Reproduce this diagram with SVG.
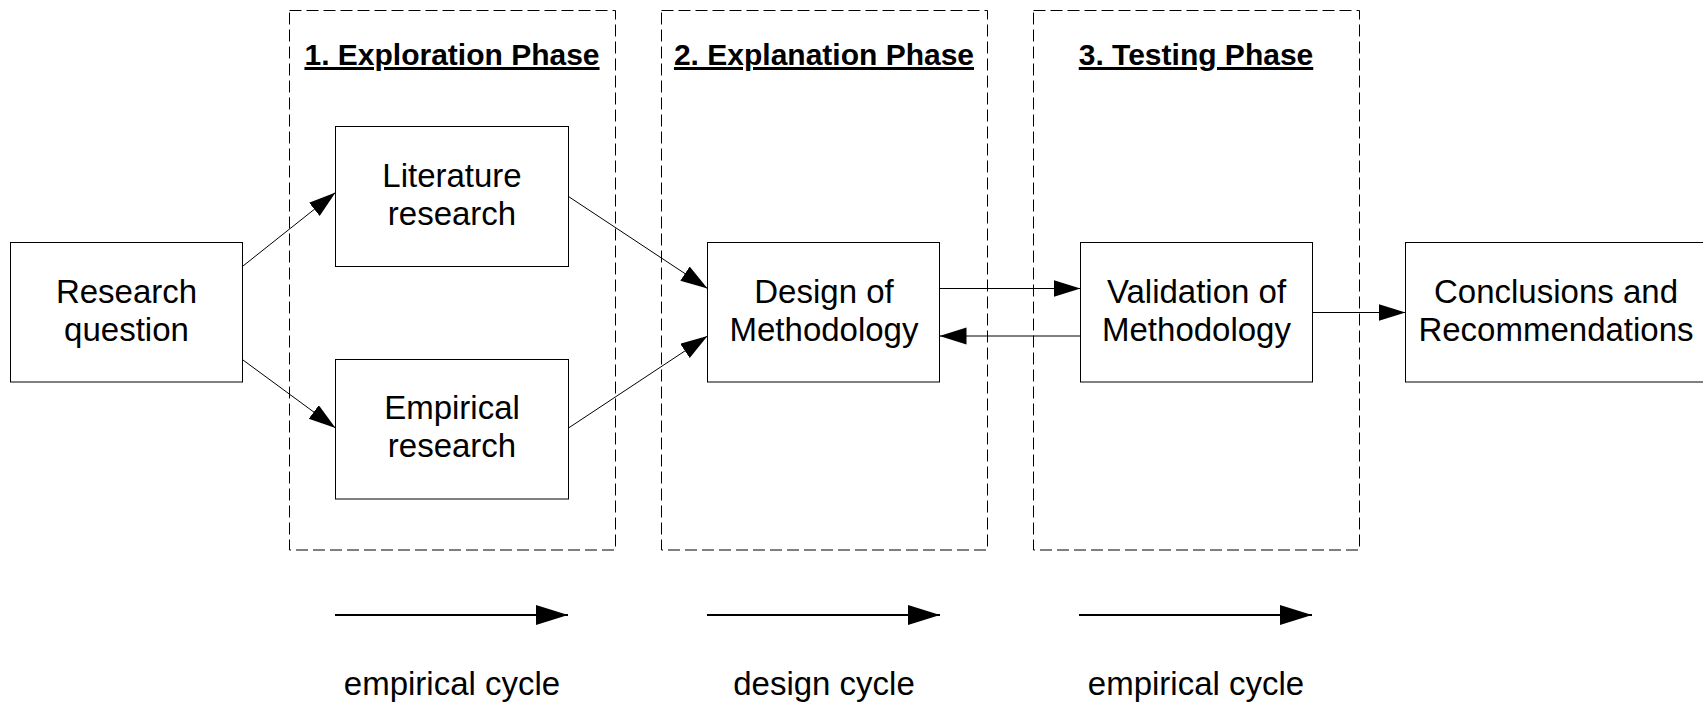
<svg xmlns="http://www.w3.org/2000/svg" width="1703" height="705" viewBox="0 0 1703 705">
  <style>
    .node rect { fill: #ffffff; stroke: #000000; stroke-width: 1; }
    .node text { font-family: "Liberation Sans", Arial, sans-serif; font-size: 33px; fill: #000000; text-anchor: middle; }
    .phase rect { fill: none; stroke: #000000; stroke-width: 1; stroke-dasharray: 12 5; }
    .phase text { font-family: "Liberation Sans", Arial, sans-serif; font-size: 30px; font-weight: bold; fill: #000000; text-anchor: middle; text-decoration: underline; }
    .conn { stroke: #000000; stroke-width: 1; fill: none; marker-end: url(#arrow); }
    .cycle { stroke: #000000; stroke-width: 2; fill: none; marker-end: url(#arrowBold); }
    .cycle-label { font-family: "Liberation Sans", Arial, sans-serif; font-size: 33px; fill: #000000; text-anchor: middle; }
  </style>
  <defs>
    <marker id="arrow" markerUnits="userSpaceOnUse" markerWidth="28" markerHeight="18" refX="27" refY="8.5" orient="auto">
      <path d="M0,0 L27,8.5 L0,17 z" fill="#000000"/>
    </marker>
    <marker id="arrowBold" markerUnits="userSpaceOnUse" markerWidth="33" markerHeight="21" refX="32" refY="10" orient="auto">
      <path d="M0,0 L32,10 L0,20 z" fill="#000000"/>
    </marker>
  </defs>
  <rect width="1703" height="705" fill="#ffffff"/>

  <!-- phase frames -->
  <g id="phase-exploration" class="phase">
    <rect x="289.5" y="10.5" width="326" height="539.5"/>
    <text x="452" y="65">1. Exploration Phase</text>
  </g>
  <g id="phase-explanation" class="phase">
    <rect x="661.5" y="10.5" width="326" height="539.5"/>
    <text x="824" y="65">2. Explanation Phase</text>
  </g>
  <g id="phase-testing" class="phase">
    <rect x="1033.5" y="10.5" width="326" height="539.5"/>
    <text x="1196" y="65">3. Testing Phase</text>
  </g>

  <!-- connectors -->
  <g id="connectors">
    <line class="conn" x1="243" y1="266" x2="335.5" y2="192.5"/>
    <line class="conn" x1="243" y1="360" x2="335.5" y2="428"/>
    <line class="conn" x1="568.5" y1="196.5" x2="707.5" y2="288.5"/>
    <line class="conn" x1="568.5" y1="428" x2="707.5" y2="336"/>
    <line class="conn" x1="939.5" y1="288.5" x2="1080.5" y2="288.5"/>
    <line class="conn" x1="1080.5" y1="336" x2="939.5" y2="336"/>
    <line class="conn" x1="1312.5" y1="312.5" x2="1405.5" y2="312.5"/>
  </g>

  <!-- nodes -->
  <g id="research-question" class="node">
    <rect x="10.5" y="242.5" width="232" height="139.5"/>
    <text x="126.5" y="303">Research</text>
    <text x="126.5" y="341">question</text>
  </g>
  <g id="literature-research" class="node">
    <rect x="335.5" y="126.5" width="233" height="140"/>
    <text x="452" y="187">Literature</text>
    <text x="452" y="225">research</text>
  </g>
  <g id="empirical-research" class="node">
    <rect x="335.5" y="359.5" width="233" height="139.5"/>
    <text x="452" y="419">Empirical</text>
    <text x="452" y="457">research</text>
  </g>
  <g id="design-methodology" class="node">
    <rect x="707.5" y="242.5" width="232" height="139.5"/>
    <text x="824" y="303">Design of</text>
    <text x="824" y="341">Methodology</text>
  </g>
  <g id="validation-methodology" class="node">
    <rect x="1080.5" y="242.5" width="232" height="139.5"/>
    <text x="1196.5" y="303">Validation of</text>
    <text x="1196.5" y="341">Methodology</text>
  </g>
  <g id="conclusions" class="node">
    <rect x="1405.5" y="242.5" width="310" height="139.5"/>
    <text x="1556" y="303">Conclusions and</text>
    <text x="1556" y="341">Recommendations</text>
  </g>

  <!-- cycle indicators -->
  <g id="cycle-empirical-1">
    <line class="cycle" x1="335" y1="615" x2="568" y2="615"/>
    <text class="cycle-label" x="452" y="695">empirical cycle</text>
  </g>
  <g id="cycle-design">
    <line class="cycle" x1="707" y1="615" x2="940" y2="615"/>
    <text class="cycle-label" x="824" y="695">design cycle</text>
  </g>
  <g id="cycle-empirical-2">
    <line class="cycle" x1="1079" y1="615" x2="1312" y2="615"/>
    <text class="cycle-label" x="1196" y="695">empirical cycle</text>
  </g>
</svg>
